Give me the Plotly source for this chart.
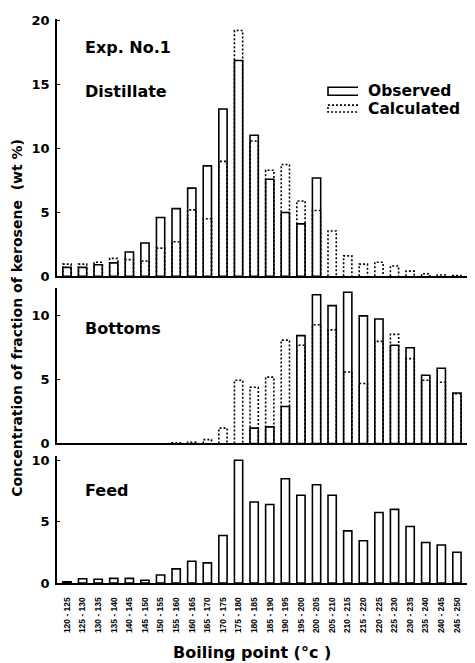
import plotly.graph_objects as go

# ---------------- data ----------------
categories = ["120 - 125", "125 - 130", "130 - 135", "135 - 140", "140 - 145", "145 - 150",
              "150 - 155", "155 - 160", "160 - 165", "165 - 170", "170 - 175", "175 - 180",
              "180 - 185", "185 - 190", "190 - 195", "195 - 200", "200 - 205", "205 - 210",
              "210 - 215", "215 - 220", "220 - 225", "225 - 230", "230 - 235", "235 - 240",
              "240 - 245", "245 - 250"]

distillate_observed = [0.7, 0.7, 0.9, 1.05, 1.9, 2.6, 4.6, 5.3, 6.9, 8.65, 13.1, 16.9, 11.05,
                       7.6, 5.0, 4.1, 7.7, None, None, None, None, None, None, None, None, None]
distillate_calculated = [0.95, 0.95, 1.1, 1.4, 1.3, 1.2, 2.2, 2.7, 5.2, 4.5, 9.0, 19.25, 10.6,
                         8.3, 8.75, 5.9, 5.15, 3.55, 1.6, 0.95, 1.1, 0.8, 0.4, 0.2, 0.1, 0.05]

bottoms_observed = [None, None, None, None, None, None, None, None, None, None, None, None, 1.2,
                    1.3, 2.9, 8.45, 11.65, 10.8, 11.85, 10.0, 9.75, 7.7, 7.5, 5.35, 5.9, 3.95]
bottoms_calculated = [0, 0, 0, 0, 0, 0, 0, 0.05, 0.1, 0.3, 1.2, 4.95, 4.4,
                      5.2, 8.1, 7.7, 9.3, 8.9, 5.6, 4.7, 8.0, 8.55, 6.65, 4.95, 4.8, 3.9]

feed_observed = [0.1, 0.35, 0.3, 0.38, 0.38, 0.22, 0.65, 1.15, 1.77, 1.64, 3.87, 10.0, 6.6,
                 6.4, 8.5, 7.15, 8.0, 7.15, 4.25, 3.44, 5.75, 6.0, 4.6, 3.3, 3.1, 2.5]

y_ticks_top = [0, 5, 10, 15, 20]
y_ticks_mid = [0, 5, 10]
y_ticks_bot = [0, 5, 10]

# ---------------- style / layout constants ----------------
OFF = 8                      # default page margin of the html body
WIN_W, WIN_H = 475, 663
W, H = WIN_W - OFF, WIN_H - OFF
AX_L, AX_R, AX_T, AX_B = 57, 468, 13, 583   # plot area in window pixels
ML, MT = AX_L - OFF, AX_T - OFF
MR, MB = WIN_W - AX_R, WIN_H - AX_B
PW, PH = AX_R - AX_L, AX_B - AX_T
BAR_W = 0.53
FONT = "DejaVu Sans"
xs = list(range(len(categories)))


def px_x(p):
    return (p - AX_L) / PW


def px_y(p):
    return (AX_B - p) / PH


def outline(values):
    ox, oy = [], []
    for i, v in enumerate(values):
        if v is None or v <= 0:
            continue
        ox += [i - BAR_W / 2, i - BAR_W / 2, i + BAR_W / 2, i + BAR_W / 2, None]
        oy += [0, v, v, 0, None]
    return ox, oy


fig = go.Figure()

panels = [
    ("x", "y", distillate_observed, distillate_calculated),
    ("x2", "y2", bottoms_observed, bottoms_calculated),
    ("x3", "y3", feed_observed, None),
]
for xa, ya, obs, calc in panels:
    fig.add_trace(go.Bar(x=xs, y=obs, width=BAR_W, xaxis=xa, yaxis=ya,
                         marker=dict(color="white", line=dict(color="black", width=1.6)),
                         name="Observed", showlegend=False))
    if calc is not None:
        cx, cy = outline(calc)
        fig.add_trace(go.Scatter(x=cx, y=cy, mode="lines", xaxis=xa, yaxis=ya,
                                 line=dict(color="black", width=1.6, dash="2px,2px"),
                                 name="Calculated", showlegend=False, hoverinfo="skip"))

xcommon = dict(range=[-0.64, 25.71], showline=True, linecolor="black", linewidth=1.6,
               showgrid=False, zeroline=False, ticks="", tickvals=xs)
ycommon = dict(showline=True, linecolor="black", linewidth=1.6, showgrid=False, zeroline=False,
               ticks="inside", ticklen=3, tickcolor="black", tickwidth=1.4,
               tickfont=dict(family=FONT, size=13, color="black", weight="bold"),
               ticklabelstandoff=3)

fig.update_layout(
    width=W, height=H, margin=dict(l=ML, r=MR, t=MT, b=MB),
    paper_bgcolor="white", plot_bgcolor="white", barmode="overlay", showlegend=False,
    xaxis=dict(xcommon, anchor="y", showticklabels=False),
    xaxis2=dict(xcommon, anchor="y2", showticklabels=False),
    xaxis3=dict(xcommon, anchor="y3", showticklabels=True, ticktext=categories, tickangle=-90,
                tickfont=dict(family="Liberation Sans", size=8.5, color="black", weight="bold"),
                ticklabelstandoff=9),
    yaxis=dict(ycommon, domain=[px_y(273), 1.0], range=[0, 20.15], tickvals=y_ticks_top, anchor="x"),
    yaxis2=dict(ycommon, domain=[px_y(442), px_y(285)], range=[0, 12.17], tickvals=y_ticks_mid, anchor="x2"),
    yaxis3=dict(ycommon, domain=[0, px_y(455)], range=[0, 10.32], tickvals=y_ticks_bot, anchor="x3"),
)

tfont = dict(family=FONT, size=16, color="black", weight="bold")
labels = [("Exp. No.1", 83, 42), ("Distillate", 83, 86), ("Bottoms", 83, 326), ("Feed", 83, 490)]
for txt, lx, ly in labels:
    fig.add_annotation(text=txt, x=px_x(lx), y=px_y(ly), xref="paper", yref="paper",
                       xanchor="left", yanchor="middle", showarrow=False, font=tfont)

# legend
fig.add_shape(type="path", xref="paper", yref="paper",
              path=f"M {px_x(358)},{px_y(82)} L {px_x(328)},{px_y(82)} L {px_x(328)},{px_y(90)} L {px_x(358)},{px_y(90)}",
              line=dict(color="black", width=1.6))
fig.add_shape(type="path", xref="paper", yref="paper",
              path=f"M {px_x(358)},{px_y(100)} L {px_x(328)},{px_y(100)} L {px_x(328)},{px_y(107)} L {px_x(358)},{px_y(107)}",
              line=dict(color="black", width=1.6, dash="2px,2px"))
for txt, ly in [("Observed", 86), ("Calculated", 104)]:
    fig.add_annotation(text=txt, x=px_x(366), y=px_y(ly), xref="paper", yref="paper",
                       xanchor="left", yanchor="middle", showarrow=False,
                       font=dict(family=FONT, size=15.5, color="black", weight="bold"))

# axis titles
fig.add_annotation(text="Concentration of fraction of kerosene  (wt %)", textangle=-90,
                   x=px_x(17), y=px_y(315), xref="paper", yref="paper",
                   xanchor="center", yanchor="middle", showarrow=False,
                   font=dict(family=FONT, size=14, color="black", weight="bold"))
fig.add_annotation(text="Boiling point (°c )", x=px_x(252), y=px_y(653), xref="paper", yref="paper",
                   xanchor="center", yanchor="middle", showarrow=False,
                   font=dict(family=FONT, size=16, color="black", weight="bold"))

fig.write_html("out.html")
